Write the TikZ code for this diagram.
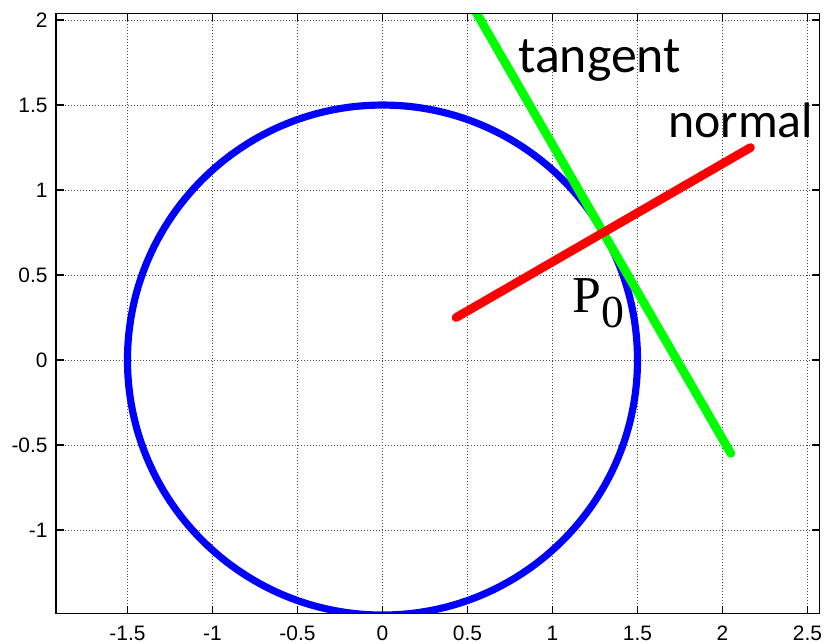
\documentclass[tikz,border=0pt]{standalone}
\usepackage{fontspec}
\setmainfont{Liberation Sans}
\newfontfamily\wordfont{Carlito}
\newfontfamily\pointfont{Liberation Serif}

\tikzset{
  ticklabel/.style={inner sep=0pt,font=\fontsize{10.5}{12}\selectfont},
  gridline/.style={black!70,line width=0.5pt,densely dotted},
  curve/.style={line width=4.4pt,line cap=round},
}

\begin{document}
\begin{tikzpicture}[x=3cm,y=3cm]
			\useasboundingbox (-2.25,-1.665) rectangle (2.603,2.118);
			% dotted grid
			\foreach \x in {-1.5,-1,-0.5,0,0.5,1,1.5,2,2.5}
				\draw[gridline] (\x,-1.49) -- (\x,2.04);
			\foreach \y in {-1,-0.5,0,0.5,1,1.5,2}
				\draw[gridline] (-1.92,\y) -- (2.573,\y);

			% curves, clipped to the axes box
			\begin{scope}
				\clip (-1.92,-1.49) rectangle (2.573,2.04);
				\draw[curve,line width=3.6pt,blue] (0,0) circle (1.5);
				\draw[curve,green] (2.049,-0.549) -- (0.524,2.091);
				\draw[curve,red] (0.433,0.25) -- (2.165,1.25);
			\end{scope}

			% axes box and ticks
			\draw[line width=0.6pt] (-1.92,-1.49) rectangle (2.573,2.04);
			\foreach \x in {-1.5,-1,-0.5,0,0.5,1,1.5,2,2.5} {
				\draw[line width=0.6pt] (\x,-1.49) -- (\x,-1.445);
				\draw[line width=0.6pt] (\x,2.04) -- (\x,1.995);
				\node[ticklabel,anchor=base] (xl\x) at (\x,-1.647) {\x};
			}
			\foreach \y in {-1,-0.5,0,0.5,1,1.5,2} {
				\draw[line width=0.6pt] (-1.92,\y) -- (-1.875,\y);
				\draw[line width=0.6pt] (2.573,\y) -- (2.528,\y);
				\node[ticklabel,anchor=east] (yl\y) at (-1.968,\y) {\y};
			}

			% labels
			\node[anchor=base west,inner sep=0pt,font=\wordfont\fontsize{26}{30}\selectfont] (tangent) at (0.797,1.694) {tangent};
			\node[anchor=base west,inner sep=0pt,font=\wordfont\fontsize{25}{30}\selectfont] (normal) at (1.679,1.312) {normal};
			\node[anchor=base west,inner sep=0pt,font=\pointfont\fontsize{26}{30}\selectfont] (P0) at (1.115,0.282)
				{P\raisebox{-7.5pt}{\fontsize{23}{24}\selectfont 0}};
		\end{tikzpicture}
\end{document}
